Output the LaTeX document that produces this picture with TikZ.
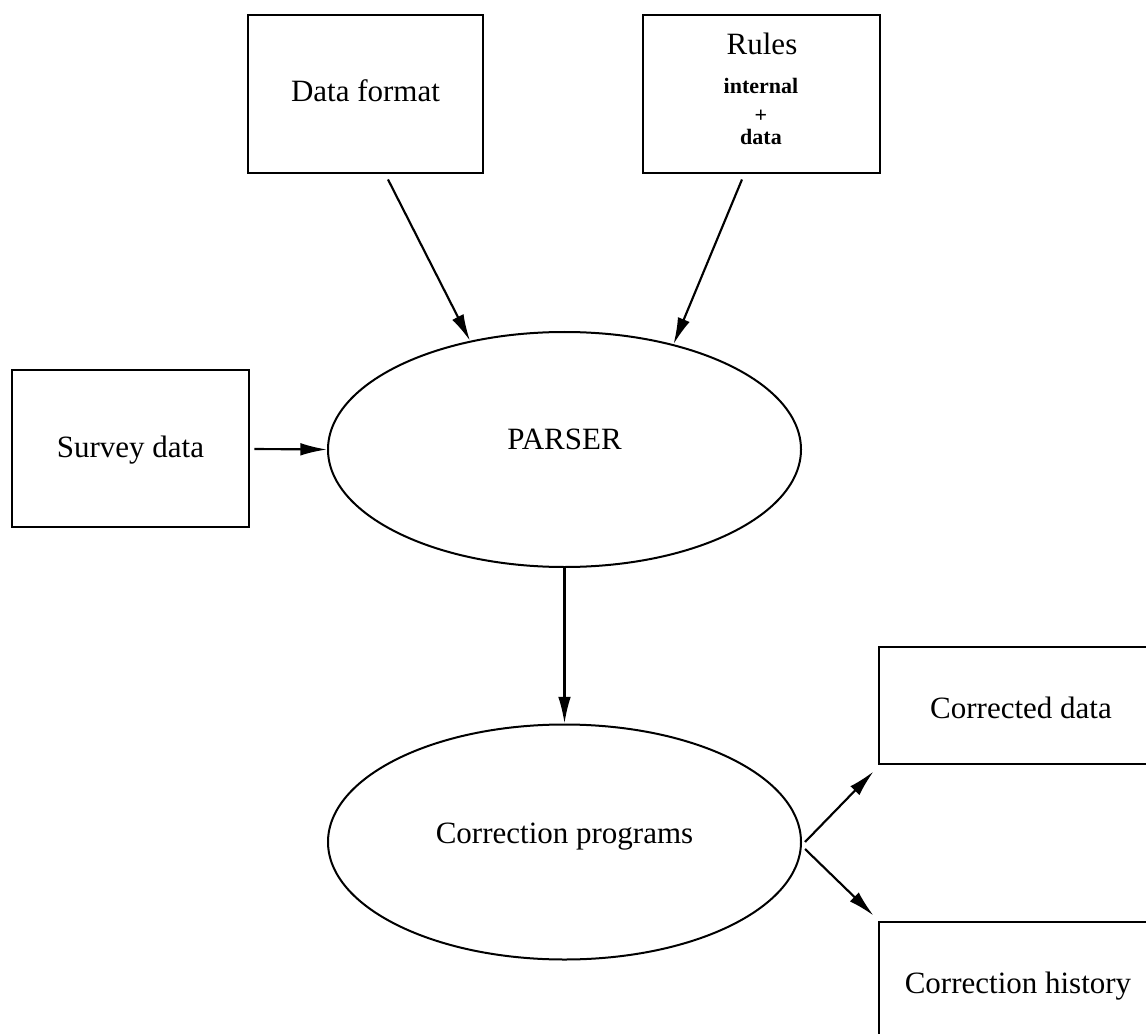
\documentclass[tikz,border=0pt]{standalone}
\usepackage{fontspec}
\setmainfont{Liberation Serif}
\usetikzlibrary{arrows.meta,calc,shapes.geometric}
\begin{document}
% one unit is one pixel (0.75pt), y grows downwards
\begin{tikzpicture}[x=0.75pt,y=-0.75pt,
  box/.style={draw,line width=2.2pt,rectangle,inner sep=0pt},
  oval/.style={draw,line width=1.5pt,ellipse,inner sep=0pt,
    minimum width=354.75pt,minimum height=176.25pt},
  txt/.style={anchor=base,inner sep=0pt,font=\fontsize{23.25pt}{28pt}\selectfont},
  small/.style={anchor=base,inner sep=0pt,font=\fontsize{16.5pt}{20pt}\selectfont\bfseries},
  flow/.style={line width=1.6pt,-{Latex[length=20pt,width=9.5pt]}}]
\useasboundingbox (0,0) rectangle (1146,1034);
\clip (0,0) rectangle (1146,1034);

% input boxes
\node[box,minimum width=176.25pt,minimum height=118.5pt] (df) at (365.5,94) {};
\node[txt] (dft) at (365.5,102) {Data format};

\node[box,minimum width=177.75pt,minimum height=118.5pt] (rules) at (761.5,94) {};
\node[txt] (rt) at (762,55) {Rules};
\node[small] (rint) at (761,94) {internal};
\node[small] (rplus) at (761,123) {+};
\node[small] (rdata) at (761,145) {data};

\node[box,minimum width=177.75pt,minimum height=117.75pt] (sd) at (130.5,448.5) {};
\node[txt] (sdt) at (130.5,457) {Survey data};

% processing stages
\node[oval] (parser) at (564.5,449.5) {};
\node[txt] (pt) at (564.5,449) {PARSER};

\node[oval] (corr) at (564.5,842) {};
\node[txt] (ct) at (564.5,843) {Correction programs};

% outputs
\node[box,minimum width=210pt,minimum height=87.75pt] (cd) at (1019,705.5) {};
\node[txt] (cdt) at (1021,718) {Corrected data};

\node[box,minimum width=210pt,minimum height=87.75pt] (ch) at (1019,980.5) {};
\node[txt] (cht) at (1018,993) {Correction history};

% connectors
\draw[flow] ($(df.south)+(22.5,5)$) -- (parser.131);
\draw[flow] ($(rules.south)+(-19.5,5)$) -- (parser.44);
\draw[flow] ($(sd.east)+(4,0.5)$) -- (parser.west);
\draw[flow] (parser.south) -- (corr.north);
\draw[flow] ($(corr.east)+(3,0)$) -- ($(cd.south west)+(-4,6)$);
\draw[flow] ($(corr.east)+(3,7)$) -- ($(ch.north west)+(-4,-5)$);
\end{tikzpicture}
\end{document}
